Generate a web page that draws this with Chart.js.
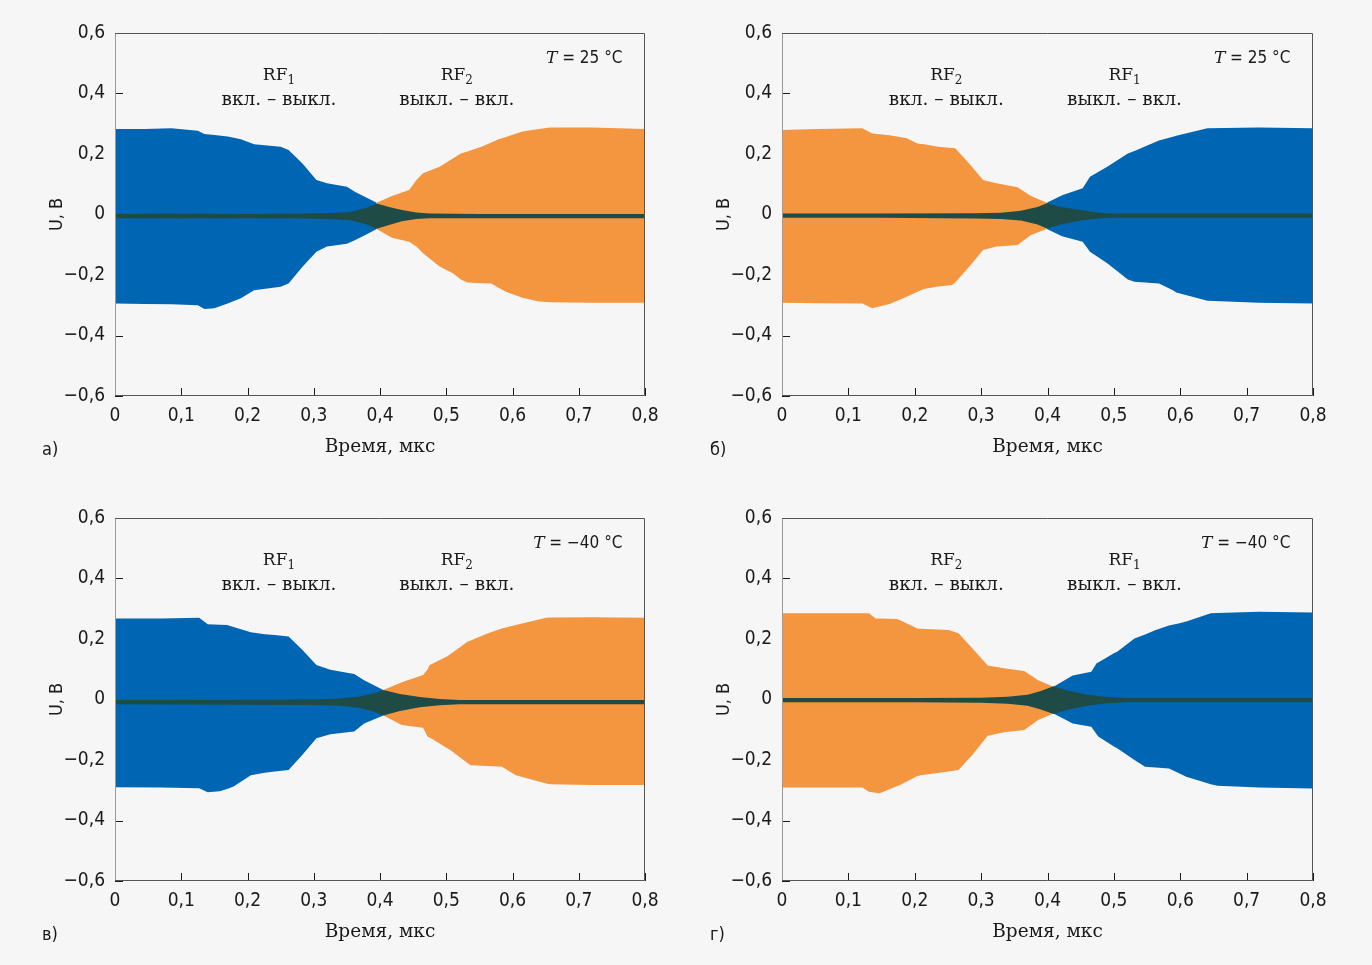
<!DOCTYPE html>
<html>
<head>
<meta charset="utf-8">
<script src="https://cdn.jsdelivr.net/npm/chart.js@4.4.1/dist/chart.umd.min.js"></script>
<style>
  html, body { margin: 0; padding: 0; background: #f6f6f6; overflow: hidden; }
  .panel { position: absolute; width: 686px; height: 482px; }
</style>
</head>
<body>
<div class="panel" style="left:0;top:0"><canvas id="chartA" width="686" height="482"></canvas></div>
<div class="panel" style="left:686px;top:0"><canvas id="chartB" width="686" height="482"></canvas></div>
<div class="panel" style="left:0;top:485px"><canvas id="chartC" width="686" height="482"></canvas></div>
<div class="panel" style="left:686px;top:485px"><canvas id="chartD" width="686" height="482"></canvas></div>
<script>
// axis ticks
const xTicks = [0, 0.1, 0.2, 0.3, 0.4, 0.5, 0.6, 0.7, 0.8];
const yTicks = [-0.6, -0.4, -0.2, 0, 0.2, 0.4, 0.6];

// envelope data, time in µs, U in V
// panel а) : blue RF1 on->off, orange RF2 off->on, T = 25 °C
const aBlueT  = [0, 0.045, 0.085, 0.125, 0.135, 0.15, 0.17, 0.19, 0.21, 0.25, 0.262, 0.283, 0.304, 0.32, 0.35, 0.362, 0.38, 0.395];
const aBlueUp = [0.283, 0.283, 0.285, 0.277, 0.266, 0.263, 0.258, 0.249, 0.232, 0.224, 0.213, 0.169, 0.114, 0.103, 0.092, 0.075, 0.055, 0.039];
const aBlueLo = [-0.294, -0.296, -0.297, -0.3, -0.312, -0.31, -0.294, -0.277, -0.25, -0.239, -0.228, -0.173, -0.123, -0.106, -0.097, -0.085, -0.065, -0.048];
const aOrT    = [0.395, 0.418, 0.444, 0.455, 0.465, 0.49, 0.51, 0.522, 0.532, 0.553, 0.568, 0.579, 0.59, 0.615, 0.64, 0.657, 0.72, 0.8];
const aOrUp   = [0.039, 0.061, 0.081, 0.114, 0.136, 0.158, 0.185, 0.202, 0.208, 0.224, 0.238, 0.249, 0.256, 0.274, 0.283, 0.288, 0.288, 0.283];
const aOrLo   = [-0.048, -0.077, -0.09, -0.106, -0.128, -0.172, -0.194, -0.215, -0.225, -0.227, -0.228, -0.242, -0.255, -0.275, -0.288, -0.29, -0.292, -0.292];
const aGrT    = [0, 0.1, 0.2, 0.28, 0.33, 0.356, 0.38, 0.395, 0.415, 0.433, 0.455, 0.475, 0.55, 0.8];
const aGrUp   = [0.002, 0.003, 0.002, 0.003, 0.005, 0.008, 0.022, 0.036, 0.024, 0.015, 0.007, 0.003, 0.002, 0.002];
const aGrLo   = [-0.012, -0.013, -0.012, -0.013, -0.016, -0.019, -0.033, -0.047, -0.034, -0.022, -0.015, -0.012, -0.012, -0.012];

// panel б) : orange RF2 on->off, blue RF1 off->on, T = 25 °C
const bOrT    = [0, 0.053, 0.121, 0.136, 0.162, 0.188, 0.204, 0.214, 0.235, 0.256, 0.261, 0.282, 0.303, 0.323, 0.355, 0.375, 0.399];
const bOrUp   = [0.279, 0.283, 0.285, 0.268, 0.262, 0.252, 0.235, 0.232, 0.224, 0.22, 0.219, 0.169, 0.114, 0.103, 0.09, 0.061, 0.039];
const bOrLo   = [-0.292, -0.293, -0.294, -0.31, -0.296, -0.272, -0.255, -0.246, -0.238, -0.233, -0.225, -0.173, -0.117, -0.106, -0.101, -0.068, -0.048];
const bBlueT  = [0.399, 0.422, 0.453, 0.464, 0.49, 0.521, 0.531, 0.552, 0.568, 0.589, 0.594, 0.641, 0.718, 0.8];
const bBlueUp = [0.039, 0.064, 0.087, 0.125, 0.158, 0.202, 0.21, 0.23, 0.245, 0.257, 0.26, 0.285, 0.288, 0.285];
const bBlueLo = [-0.048, -0.072, -0.09, -0.123, -0.161, -0.215, -0.222, -0.226, -0.228, -0.25, -0.258, -0.285, -0.292, -0.294];
const bGrT    = [0, 0.15, 0.29, 0.33, 0.36, 0.385, 0.399, 0.42, 0.45, 0.48, 0.5, 0.8];
const bGrUp   = [0.003, 0.003, 0.004, 0.006, 0.012, 0.025, 0.037, 0.025, 0.015, 0.005, 0.003, 0.003];
const bGrLo   = [-0.011, -0.011, -0.013, -0.015, -0.02, -0.033, -0.046, -0.033, -0.02, -0.012, -0.011, -0.011];

// panel в) : blue RF1 on->off, orange RF2 off->on, T = -40 °C
const cBlueT  = [0, 0.07, 0.127, 0.14, 0.158, 0.169, 0.179, 0.205, 0.226, 0.241, 0.262, 0.283, 0.304, 0.325, 0.361, 0.376, 0.405];
const cBlueUp = [0.268, 0.268, 0.27, 0.249, 0.247, 0.246, 0.24, 0.222, 0.216, 0.213, 0.208, 0.164, 0.114, 0.098, 0.084, 0.064, 0.031];
const cBlueLo = [-0.29, -0.291, -0.293, -0.307, -0.303, -0.296, -0.288, -0.25, -0.242, -0.238, -0.233, -0.183, -0.128, -0.115, -0.106, -0.079, -0.053];
const cOrT    = [0.405, 0.433, 0.465, 0.472, 0.475, 0.501, 0.506, 0.532, 0.537, 0.563, 0.584, 0.605, 0.651, 0.657, 0.719, 0.8];
const cOrUp   = [0.031, 0.057, 0.081, 0.1, 0.114, 0.142, 0.15, 0.191, 0.195, 0.219, 0.235, 0.246, 0.27, 0.271, 0.272, 0.27];
const cOrLo   = [-0.053, -0.084, -0.093, -0.123, -0.126, -0.16, -0.167, -0.21, -0.217, -0.22, -0.222, -0.25, -0.278, -0.28, -0.283, -0.283];
const cGrT    = [0, 0.2, 0.3, 0.34, 0.37, 0.39, 0.405, 0.43, 0.46, 0.49, 0.52, 0.8];
const cGrUp   = [-0.002, -0.001, 0, 0.003, 0.01, 0.02, 0.031, 0.018, 0.008, 0.002, -0.002, -0.002];
const cGrLo   = [-0.016, -0.017, -0.018, -0.021, -0.028, -0.04, -0.053, -0.038, -0.026, -0.019, -0.016, -0.016];

// panel г) : orange RF2 on->off, blue RF1 off->on, T = -40 °C
const dOrT    = [0, 0.121, 0.131, 0.141, 0.147, 0.173, 0.178, 0.204, 0.209, 0.251, 0.266, 0.287, 0.31, 0.334, 0.365, 0.386, 0.409];
const dOrUp   = [0.285, 0.285, 0.285, 0.268, 0.268, 0.266, 0.262, 0.235, 0.234, 0.23, 0.219, 0.169, 0.112, 0.103, 0.094, 0.064, 0.042];
const dOrLo   = [-0.291, -0.291, -0.305, -0.308, -0.31, -0.287, -0.283, -0.253, -0.25, -0.238, -0.233, -0.183, -0.12, -0.108, -0.101, -0.068, -0.046];
const dBlueT  = [0.409, 0.438, 0.466, 0.474, 0.477, 0.5, 0.505, 0.531, 0.547, 0.563, 0.583, 0.599, 0.609, 0.646, 0.656, 0.719, 0.8];
const dBlueUp = [0.042, 0.079, 0.092, 0.12, 0.123, 0.153, 0.158, 0.202, 0.215, 0.23, 0.245, 0.252, 0.258, 0.285, 0.286, 0.29, 0.288];
const dBlueLo = [-0.046, -0.079, -0.09, -0.115, -0.123, -0.155, -0.161, -0.2, -0.222, -0.225, -0.228, -0.245, -0.255, -0.28, -0.285, -0.291, -0.294];
const dGrT    = [0, 0.2, 0.3, 0.34, 0.37, 0.39, 0.409, 0.43, 0.46, 0.49, 0.52, 0.8];
const dGrUp   = [0.005, 0.005, 0.006, 0.009, 0.016, 0.028, 0.044, 0.03, 0.016, 0.008, 0.005, 0.005];
const dGrLo   = [-0.009, -0.009, -0.011, -0.014, -0.021, -0.033, -0.048, -0.034, -0.021, -0.012, -0.009, -0.009];

const BLUE = '#0066b3';
const ORANGE = '#f4953f';
const GREEN = '#1f4b47';
const INK = '#1a1a1a';

const SERIF = '"DejaVu Serif", "Liberation Serif", serif';
const SANS = '"DejaVu Sans Condensed", "Liberation Sans Narrow", "DejaVu Sans", sans-serif';

function pts(ts, vs) {
  return ts.map((t, i) => ({ x: t, y: vs[i] }));
}

function band(ts, up, lo, color) {
  return [
    { data: pts(ts, up), backgroundColor: color, fill: '+1', borderWidth: 0, pointRadius: 0 },
    { data: pts(ts, lo), backgroundColor: color, fill: false, borderWidth: 0, pointRadius: 0 }
  ];
}

function fmt(v) {
  if (Math.abs(v) < 1e-9) return '0';
  return (v < 0 ? '\u2212' : '') + Math.abs(v).toFixed(1).replace('.', ',');
}

function drawRF(ctx, cx, base, sub) {
  ctx.font = '17px ' + SERIF;
  const w1 = ctx.measureText('RF').width;
  ctx.font = '12px ' + SERIF;
  const w2 = ctx.measureText(sub).width;
  const x0 = cx - (w1 + w2) / 2;
  ctx.textAlign = 'left';
  ctx.font = '17px ' + SERIF;
  ctx.fillText('RF', x0, base);
  ctx.font = '12px ' + SERIF;
  ctx.fillText(sub, x0 + w1, base + 4);
}

const decor = {
  id: 'decor',
  beforeDatasetsDraw(chart) {
    // inward tick marks, under the data
    const { ctx, chartArea: a, scales: { x, y } } = chart;
    ctx.save();
    ctx.strokeStyle = INK;
    ctx.lineWidth = 1;
    ctx.beginPath();
    x.ticks.forEach(t => {
      const px = Math.round(x.getPixelForValue(t.value)) + 0.5;
      ctx.moveTo(px, a.bottom);
      ctx.lineTo(px, a.bottom - 8);
    });
    y.ticks.forEach(t => {
      const py = Math.round(y.getPixelForValue(t.value)) + 0.5;
      ctx.moveTo(a.left, py);
      ctx.lineTo(a.left + 8, py);
    });
    ctx.stroke();
    ctx.restore();
  },
  afterDraw(chart, args, opts) {
    const { ctx, chartArea: a, scales: { x, y } } = chart;
    ctx.save();
    // frame
    ctx.lineWidth = 1;
    ctx.strokeStyle = '#9a9a9a';
    ctx.beginPath();
    ctx.moveTo(a.left + 0.5, a.top);
    ctx.lineTo(a.left + 0.5, a.bottom);
    ctx.stroke();
    ctx.strokeStyle = '#555';
    ctx.beginPath();
    ctx.moveTo(a.left, a.top + 0.5);
    ctx.lineTo(a.right - 0.5, a.top + 0.5);
    ctx.lineTo(a.right - 0.5, a.bottom - 0.5);
    ctx.lineTo(a.left, a.bottom - 0.5);
    ctx.stroke();

    ctx.fillStyle = INK;
    ctx.textBaseline = 'alphabetic';
    // RF labels
    opts.labels.forEach(l => {
      const cx = x.getPixelForValue(l.t);
      drawRF(ctx, cx, y.getPixelForValue(0.446), l.sub);
      ctx.font = '18.5px ' + SERIF;
      ctx.textAlign = 'center';
      ctx.fillText(l.text, cx, y.getPixelForValue(0.362));
    });
    // temperature
    const rx = x.getPixelForValue(0.766);
    const by = y.getPixelForValue(0.502);
    ctx.font = '17px ' + SANS;
    const rest = ' = ' + opts.temp + ' °C';
    const wr = ctx.measureText(rest).width;
    ctx.textAlign = 'right';
    ctx.fillText(rest, rx, by);
    ctx.font = 'italic 17px ' + SERIF;
    ctx.fillText('T', rx - wr, by);
    // panel letter
    ctx.font = '18px ' + SANS;
    ctx.textAlign = 'left';
    ctx.textBaseline = 'middle';
    ctx.fillText(opts.letter, opts.letterX, 450);
    ctx.restore();
  }
};

function makeChart(id, cfg) {
  const datasets = [
    ...band(cfg.gr[0], cfg.gr[1], cfg.gr[2], GREEN),
    ...band(cfg.s1[0], cfg.s1[1], cfg.s1[2], cfg.c1),
    ...band(cfg.s2[0], cfg.s2[1], cfg.s2[2], cfg.c2)
  ];
  new Chart(document.getElementById(id), {
    type: 'line',
    data: { datasets },
    options: {
      responsive: false,
      animation: false,
      devicePixelRatio: 1,
      layout: { padding: { top: 33, right: cfg.padRight, bottom: 0, left: 0 } },
      plugins: {
        legend: { display: false },
        tooltip: { enabled: false },
        decor: { labels: cfg.labels, temp: cfg.temp, letter: cfg.letter, letterX: cfg.letterX }
      },
      elements: { line: { tension: 0 } },
      scales: {
        x: {
          type: 'linear',
          min: 0, max: 0.8,
          afterBuildTicks: s => { s.ticks = xTicks.map(v => ({ value: v })); },
          afterFit: s => { s.height = 86; },
          grid: { display: false, drawTicks: false },
          border: { display: false },
          ticks: { padding: 9, color: INK, font: { family: SANS, size: 19 }, callback: v => fmt(v), maxRotation: 0 },
          title: { display: true, text: 'Время, мкс', color: INK, font: { family: SERIF, size: 18.5 }, padding: { top: 0, bottom: 24 } }
        },
        y: {
          type: 'linear',
          min: -0.6, max: 0.6,
          afterBuildTicks: s => { s.ticks = yTicks.map(v => ({ value: v })); },
          afterFit: s => { s.width = cfg.yWidth; },
          grid: { display: false, drawTicks: false },
          border: { display: false },
          ticks: { padding: 10, color: INK, font: { family: SANS, size: 19 }, callback: v => fmt(v) },
          title: { display: true, text: 'U, В', color: INK, font: { family: SANS, size: 18 }, padding: { top: cfg.yTitlePad, bottom: 0 } }
        }
      }
    },
    plugins: [decor]
  });
}

const leftLabels = [
  { t: 0.2475, sub: '1', text: 'вкл. – выкл.' },
  { t: 0.516, sub: '2', text: 'выкл. – вкл.' }
];
const rightLabels = [
  { t: 0.2475, sub: '2', text: 'вкл. – выкл.' },
  { t: 0.516, sub: '1', text: 'выкл. – вкл.' }
];

makeChart('chartA', {
  gr: [aGrT, aGrUp, aGrLo], s1: [aBlueT, aBlueUp, aBlueLo], c1: BLUE, s2: [aOrT, aOrUp, aOrLo], c2: ORANGE,
  labels: leftLabels, temp: '25', letter: 'а)', letterX: 42, yWidth: 115, padRight: 41, yTitlePad: 47
});
makeChart('chartB', {
  gr: [bGrT, bGrUp, bGrLo], s1: [bOrT, bOrUp, bOrLo], c1: ORANGE, s2: [bBlueT, bBlueUp, bBlueLo], c2: BLUE,
  labels: rightLabels, temp: '25', letter: 'б)', letterX: 24, yWidth: 96, padRight: 59, yTitlePad: 28
});
makeChart('chartC', {
  gr: [cGrT, cGrUp, cGrLo], s1: [cBlueT, cBlueUp, cBlueLo], c1: BLUE, s2: [cOrT, cOrUp, cOrLo], c2: ORANGE,
  labels: leftLabels, temp: '\u221240', letter: 'в)', letterX: 42, yWidth: 115, padRight: 41, yTitlePad: 47
});
makeChart('chartD', {
  gr: [dGrT, dGrUp, dGrLo], s1: [dOrT, dOrUp, dOrLo], c1: ORANGE, s2: [dBlueT, dBlueUp, dBlueLo], c2: BLUE,
  labels: rightLabels, temp: '\u221240', letter: 'г)', letterX: 24, yWidth: 96, padRight: 59, yTitlePad: 28
});
</script>
</body>
</html>
